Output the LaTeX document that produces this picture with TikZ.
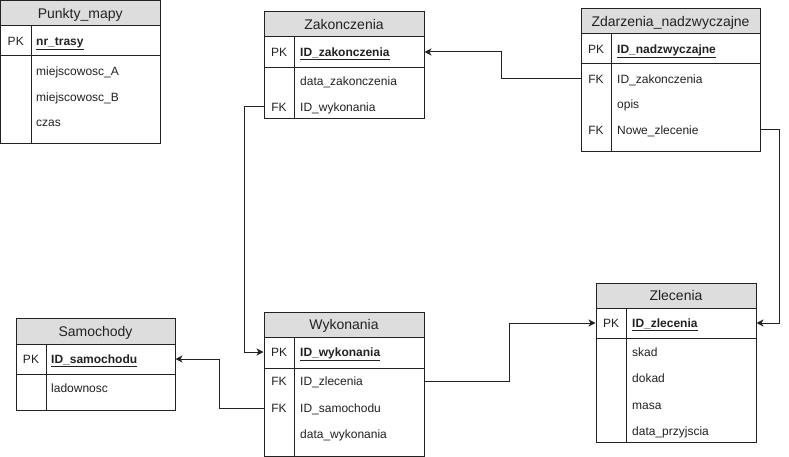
\documentclass[tikz,border=0pt]{standalone}
\usepackage{fontspec}
\setmainfont{Liberation Sans}
\usetikzlibrary{fit,arrows.meta}
\definecolor{hdrgray}{HTML}{DDDDDD}
\definecolor{ink}{HTML}{222222}
\tikzset{
  hdr/.style={draw=ink, line width=1pt, fill=hdrgray, inner sep=0pt},
  ttl/.style={inner sep=0pt, anchor=center, text height=10pt, text depth=0pt, font=\fontsize{14}{16}\selectfont, text=ink},
  frame/.style={draw=ink, line width=1pt, fill=white, inner sep=0pt},
  rule/.style={draw=ink, line width=1pt},
  keyt/.style={inner sep=0pt, anchor=center, text height=8.6pt, text depth=0pt, font=\fontsize{12}{14}\selectfont, text=ink},
  fld/.style={inner sep=0pt, anchor=west, text height=8.6pt, text depth=0pt, font=\fontsize{12}{14}\selectfont, text=ink},
  conn/.style={draw=ink, line width=1pt, -{Stealth[length=7pt,width=7pt,inset=2pt]}},
}
\newcommand{\ertab}[9]{%
  \node[hdr, fit={(#2,#3) (#4,#5)}] (#1H) {};
  \node[ttl] (#1T) at (#1H.center) {#9};
  \node[frame, fit={(#2,#5) (#4,#7)}] (#1B) {};
  \draw[rule] (#1B.west |- 0,#6) -- (#1B.east |- 0,#6);
  \draw[rule] (#8,#5) -- (#8,#7);
}
\newcommand{\pkf}[1]{\underline{\textbf{#1}}}
\begin{document}
\begin{tikzpicture}[x=1pt,y=-1pt]
\useasboundingbox (0,0) rectangle (789,457);
% Punkty_mapy
\ertab{pm}{0.5}{0.5}{160}{26}{56}{144}{31}{Punkty\_mapy}
\node[keyt] (pmPK) at (15.75,41) {PK};
\node[fld] (pmNr) at (36,41) {\pkf{nr\_trasy}};
\node[fld] (pmA) at (36,71) {miejscowosc\_A};
\node[fld] (pmBB) at (36,97) {miejscowosc\_B};
\node[fld] (pmCz) at (36,122) {czas};
% Zakonczenia
\ertab{zak}{264}{12}{424}{37}{68}{119}{294}{Zakonczenia}
\node[keyt] (zakPK) at (279,52) {PK};
\node[fld] (zakId) at (300,52) {\pkf{ID\_zakonczenia}};
\node[fld] (zakData) at (300,81) {data\_zakonczenia};
\node[keyt] (zakFK) at (279,107) {FK};
\node[fld] (zakIdw) at (300,107) {ID\_wykonania};
% Zdarzenia_nadzwyczajne
\ertab{zdz}{581}{9}{760}{34}{64}{152}{611}{Zdarzenia\_nadzwyczajne}
\node[keyt] (zdzPK) at (596,49) {PK};
\node[fld] (zdzId) at (617,49) {\pkf{ID\_nadzwyczajne}};
\node[keyt] (zdzFK1) at (596,79) {FK};
\node[fld] (zdzIdz) at (617,79) {ID\_zakonczenia};
\node[fld] (zdzOpis) at (617,104) {opis};
\node[keyt] (zdzFK2) at (596,130) {FK};
\node[fld] (zdzNz) at (617,130) {Nowe\_zlecenie};
% Samochody
\ertab{sam}{16}{318}{175}{344}{374}{410}{46}{Samochody}
\node[keyt] (samPK) at (31,359) {PK};
\node[fld] (samId) at (51,359) {\pkf{ID\_samochodu}};
\node[fld] (samLad) at (51,388) {ladownosc};
% Wykonania
\ertab{wyk}{264}{312}{424}{337}{368}{456}{294}{Wykonania}
\node[keyt] (wykPK) at (279,352) {PK};
\node[fld] (wykId) at (300,352) {\pkf{ID\_wykonania}};
\node[keyt] (wykFK1) at (279,381) {FK};
\node[fld] (wykIdz) at (300,381) {ID\_zlecenia};
\node[keyt] (wykFK2) at (279,408) {FK};
\node[fld] (wykIds) at (300,408) {ID\_samochodu};
\node[fld] (wykData) at (300,434) {data\_wykonania};
% Zlecenia
\ertab{zle}{596}{283}{756}{308}{338}{442}{626}{Zlecenia}
\node[keyt] (zlePK) at (611,323) {PK};
\node[fld] (zleId) at (632,323) {\pkf{ID\_zlecenia}};
\node[fld] (zleSkad) at (632,352) {skad};
\node[fld] (zleDokad) at (632,378) {dokad};
\node[fld] (zleMasa) at (632,405) {masa};
\node[fld] (zleData) at (632,431) {data\_przyjscia};
% connectors
\draw[conn] (zdzB.west |- zdzIdz.west) -- ++(-79,0) |- (zakB.east |- zakId.west);
\draw[conn] (zakB.west |- zakIdw.west) -- ++(-19,0) |- (wykB.west |- wykId.west);
\draw[conn] (wykB.west |- wykIds.west) -- ++(-44,0) |- (samB.east |- samId.west);
\draw[conn] (wykB.east |- wykIdz.west) -- ++(85,0) |- (zleB.west |- zleId.west);
\draw[conn] (zdzB.east |- zdzNz.west) -- ++(19,0) |- (zleB.east |- zleId.west);
\end{tikzpicture}
\end{document}
